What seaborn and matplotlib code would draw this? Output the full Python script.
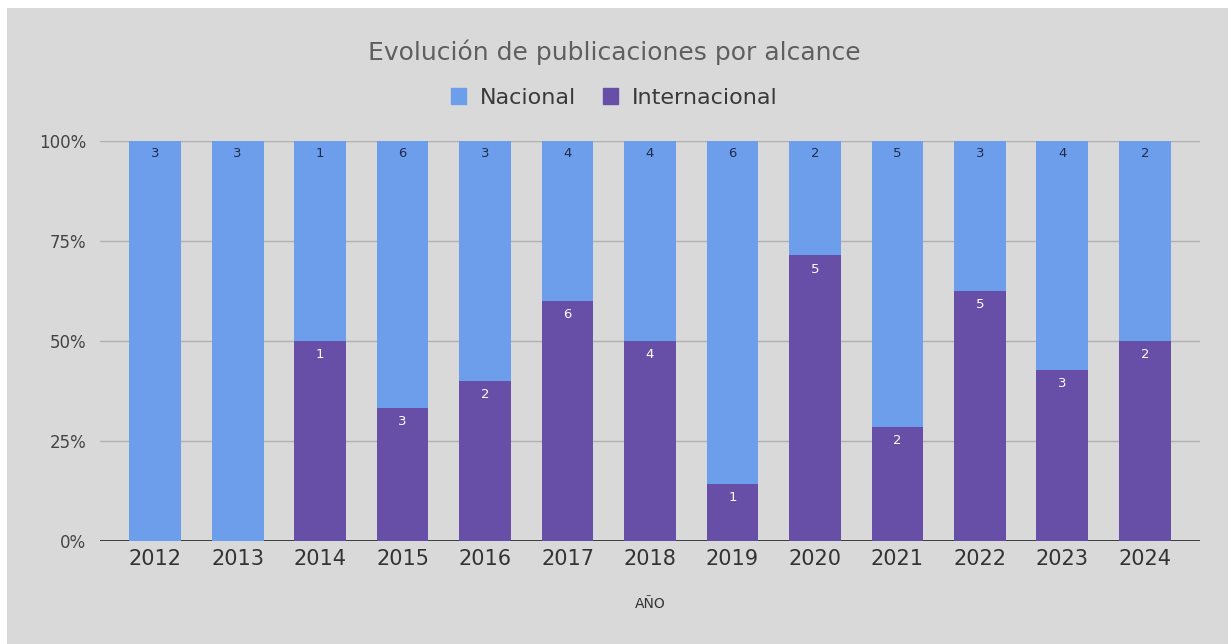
import numpy as np
import pandas as pd
import matplotlib
matplotlib.use("Agg")
import matplotlib.pyplot as plt
import seaborn as sns
from matplotlib.patches import Rectangle, Patch

# counts per year
years = ["2012", "2013", "2014", "2015", "2016", "2017", "2018",
         "2019", "2020", "2021", "2022", "2023", "2024"]
nacional = [3, 3, 1, 6, 3, 4, 4, 6, 2, 5, 3, 4, 2]
internacional = [0, 0, 1, 3, 2, 6, 4, 1, 5, 2, 5, 3, 2]

c_nac = "#6d9eeb"
c_int = "#674ea7"
bg = "#d9d9d9"

sns.set_style("white")
plt.rcParams["font.family"] = ["DejaVu Sans"]

df = pd.DataFrame({"year": years, "nac": nacional, "int": internacional})
df["total"] = df["nac"] + df["int"]
df["int_share"] = df["int"] / df["total"]
df["full"] = 1.0

fig = plt.figure(figsize=(12.28, 6.44), dpi=100, facecolor="white")
fig.patches.append(Rectangle((7 / 1228, 0), 1, 1 - 8 / 644, transform=fig.transFigure,
                             facecolor=bg, edgecolor="none", zorder=-10))
ax = fig.add_axes([100 / 1228, 1 - 541 / 644, 1100 / 1228, 400 / 644])
ax.set_facecolor(bg)

sns.barplot(data=df, x="year", y="full", color=c_nac, width=0.63,
            saturation=1, linewidth=0, ax=ax, zorder=3)
sns.barplot(data=df, x="year", y="int_share", color=c_int, width=0.63,
            saturation=1, linewidth=0, ax=ax, zorder=4)

# value labels near the top of each segment
for i, row in df.iterrows():
    if row["nac"] > 0:
        ax.annotate(str(row["nac"]), (i, 1.0), xytext=(0, -9), textcoords="offset points",
                    ha="center", va="center", fontsize=9.5, color="#1f2d4d", zorder=5)
    if row["int"] > 0:
        ax.annotate(str(row["int"]), (i, row["int_share"]), xytext=(0, -10),
                    textcoords="offset points", ha="center", va="center",
                    fontsize=9.5, color="white", zorder=5)

ax.set_xlim(-0.667, len(years) - 1 + 0.667)
ax.set_ylim(0, 1)
ax.set_yticks([0, 0.25, 0.5, 0.75, 1.0])
ax.set_yticklabels(["0%", "25%", "50%", "75%", "100%"], fontsize=12, color="#444444")
ax.tick_params(axis="y", length=0, pad=10)
ax.tick_params(axis="x", length=0, labelsize=15, labelcolor="#333333", pad=6)
for y in [0.25, 0.5, 0.75, 1.0]:
    ax.axhline(y, color="#b0b0b0", lw=1, zorder=1)
ax.axhline(0, color="#222222", lw=1.2, zorder=2)
for s in ax.spines.values():
    s.set_visible(False)

ax.set_xlabel("AÑO", fontsize=10, color="#333333", labelpad=20)
ax.set_ylabel("")

fig.text(0.5, 1 - 52 / 644, "Evolución de publicaciones por alcance", ha="center",
         va="center", fontsize=18, color="#5f5f5f")

handles = [Patch(color=c_nac, label="Nacional"), Patch(color=c_int, label="Internacional")]
fig.legend(handles=handles, loc="center", bbox_to_anchor=(0.5, 1 - 98 / 644), ncol=2,
           frameon=False, fontsize=16, handlelength=0.7, handleheight=0.7,
           columnspacing=1.2, handletextpad=0.6, labelcolor="#3a3a3a")

fig.savefig("out.png", dpi=100, facecolor=fig.get_facecolor())
